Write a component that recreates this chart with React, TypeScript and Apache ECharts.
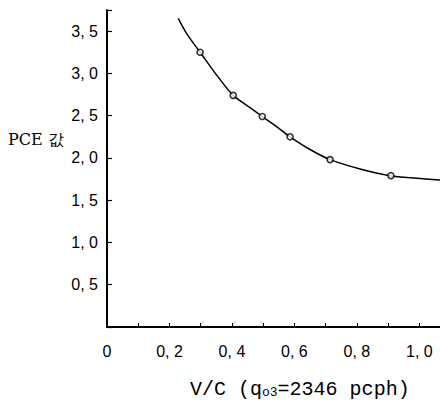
import React, { useEffect, useRef } from "react";
import * as echarts from "echarts";

const pointX = [0.298, 0.404, 0.497, 0.586, 0.714, 0.909];
const pointY = [3.25, 2.74, 2.49, 2.25, 1.98, 1.79];

const curveX = [0.228, 0.255, 0.298, 0.351, 0.404, 0.452, 0.497, 0.543, 0.586, 0.65, 0.714, 0.81, 0.906, 0.991, 1.066];
const curveY = [3.65, 3.47, 3.25, 2.98, 2.74, 2.61, 2.49, 2.37, 2.25, 2.1, 1.98, 1.87, 1.79, 1.76, 1.74];

const xLabels = [0, 0.2, 0.4, 0.6, 0.8, 1.0];
const yLabels = [0.5, 1.0, 1.5, 2.0, 2.5, 3.0, 3.5];

const fmt = (v: number) => v.toFixed(1).replace(".", ", ");
const near = (arr: number[], v: number) => arr.some((a) => Math.abs(a - v) < 1e-6);

export default function App() {
  const ref = useRef<HTMLDivElement>(null);
  useEffect(() => {
    if (!ref.current) return;
    const chart = echarts.init(ref.current, undefined, { renderer: "svg" });
    chart.setOption({
      animation: false,
      backgroundColor: "#fff",
      grid: { left: 107, top: 10, right: 0, bottom: 75, containLabel: false },
      xAxis: {
        type: "value",
        min: 0,
        max: 1.066,
        interval: 0.1,
        splitLine: { show: false },
        axisLine: { lineStyle: { color: "#000", width: 2 } },
        axisTick: { inside: true, length: 4, lineStyle: { color: "#000", width: 1 } },
        axisLabel: {
          color: "#000",
          fontFamily: "Liberation Sans",
          fontSize: 16,
          margin: 16,
          showMaxLabel: false,
          formatter: (v: number) => {
            if (v === 0) return "0";
            return near(xLabels, v) ? fmt(v) : "";
          },
        },
      },
      yAxis: {
        type: "value",
        min: 0,
        max: 3.75,
        interval: 0.5,
        splitLine: { show: false },
        axisLine: { lineStyle: { color: "#000", width: 2 } },
        axisTick: { inside: true, length: 5, lineStyle: { color: "#000", width: 1.2 } },
        axisLabel: {
          color: "#000",
          fontFamily: "Liberation Sans",
          fontSize: 16,
          margin: 9,
          formatter: (v: number) => (near(yLabels, v) ? fmt(v) : ""),
        },
      },
      graphic: [
        {
          type: "text",
          left: 8,
          top: 131,
          style: { text: "PCE 값", fontFamily: "DejaVu Serif", fontSize: 16, fill: "#000" },
        },
        {
          type: "text",
          left: 190,
          top: 379,
          style: {
            text: "V/C (q{s|o3}=2346 pcph)",
            fontFamily: "Liberation Mono",
            fontSize: 20,
            fill: "#000",
            rich: {
              s: { fontFamily: "Liberation Mono", fontSize: 13, fill: "#000", padding: [6, 0, 0, 0] },
            },
          },
        },
      ],
      series: [
        {
          type: "line",
          data: curveX.map((x, i) => [x, curveY[i]]),
          smooth: 0.3,
          showSymbol: false,
          lineStyle: { color: "#000", width: 1.5 },
          silent: true,
          z: 1,
        },
        {
          type: "scatter",
          data: pointX.map((x, i) => [x, pointY[i]]),
          symbol: "circle",
          symbolSize: 6,
          itemStyle: { color: "#fff", borderColor: "#000", borderWidth: 1.6 },
          z: 2,
        },
      ],
    });
    return () => chart.dispose();
  }, []);
  return (
    <div
      ref={ref}
      style={{ position: "fixed", left: 0, top: 0, width: 440, height: 402 }}
    />
  );
}
